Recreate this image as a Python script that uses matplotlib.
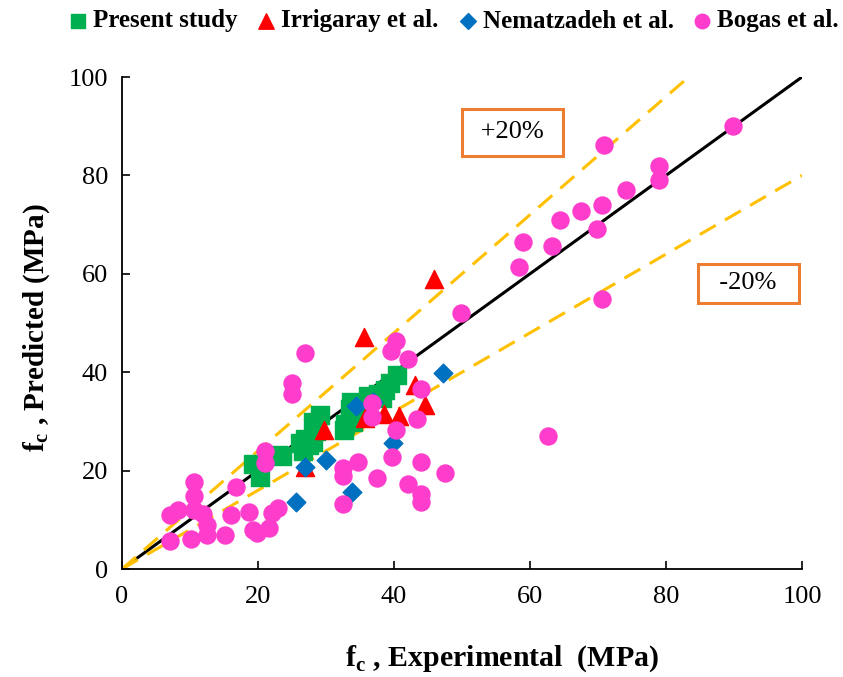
import numpy as np
import matplotlib
matplotlib.use("Agg")
import matplotlib.pyplot as plt

plt.rcParams['font.family'] = ['Liberation Serif', 'DejaVu Serif']
plt.rcParams['mathtext.fontset'] = 'custom'
plt.rcParams['mathtext.rm'] = 'Liberation Serif'
plt.rcParams['mathtext.bf'] = 'Liberation Serif:bold'

# data (experimental, predicted)
present_x = [19.3, 20.3, 22.9, 23.6, 26.2, 26.6, 27.5, 26.9, 28.1, 28.1, 29.1, 28.5, 32.6,
             32.8, 33.5, 33.5, 33.7, 34.5, 35.5, 36.2, 37.6, 38.2, 38.7, 39.4, 40.4, 34.0]
present_y = [21.3, 18.7, 23.2, 23.0, 25.6, 24.0, 25.2, 26.4, 25.8, 29.9, 31.3, 28.0, 28.2,
             29.5, 30.7, 32.5, 34.0, 31.5, 33.0, 35.2, 35.6, 34.8, 36.4, 37.8, 39.4, 29.8]

irri_x = [45.9, 35.6, 43.1, 44.6, 38.5, 40.7, 35.7, 29.7, 26.9]
irri_y = [58.9, 47.2, 37.4, 33.3, 31.5, 31.1, 30.7, 28.3, 20.7]

nema_x = [47.2, 34.4, 36.9, 39.9, 30.0, 26.9, 33.8, 25.6]
nema_y = [39.8, 33.1, 34.0, 25.6, 22.2, 20.7, 15.7, 13.6]

bogas_x = [89.9, 70.9, 79.0, 79.0, 74.1, 70.6, 67.5, 64.4, 59.0, 63.2, 69.9, 58.4, 70.6,
           49.9, 62.6, 26.9, 40.3, 39.6, 42.1, 44.0, 36.8, 36.8, 43.4, 40.3, 39.7, 34.7,
           32.5, 32.5, 44.0, 47.5, 37.5, 42.1, 44.0, 44.0, 32.5, 25.0, 25.0, 21.0, 21.0,
           10.6, 10.6, 16.8, 7.1, 8.2, 10.6, 11.9, 12.5, 12.5, 7.1, 10.1, 15.1, 16.0,
           18.7, 19.3, 19.9, 21.6, 22.1, 22.9]
bogas_y = [90.0, 86.2, 81.9, 79.1, 77.0, 74.0, 72.8, 70.9, 66.5, 65.7, 69.1, 61.4, 54.9,
           52.0, 27.0, 43.9, 46.3, 44.3, 42.7, 36.6, 33.7, 30.9, 30.5, 28.3, 22.8, 21.7,
           20.5, 18.9, 21.7, 19.5, 18.5, 17.3, 15.2, 13.6, 13.2, 37.8, 35.6, 24.0, 21.5,
           17.7, 14.8, 16.7, 11.0, 12.0, 12.0, 11.2, 8.9, 6.9, 5.7, 6.1, 6.9, 11.0,
           11.6, 7.9, 7.3, 8.3, 11.4, 12.4]

fig = plt.figure(figsize=(8.43, 6.77), dpi=100)
ax = fig.add_axes([122 / 843, 1 - 569 / 677, 680 / 843, 492 / 677])

# reference lines
ax.plot([0, 100], [0, 100], color='black', lw=2.2, zorder=1)
ax.plot([0, 100 / 1.2], [0, 100], color='#FFC000', lw=2.2, dashes=(6, 3.5), zorder=1)
ax.plot([0, 100], [0, 80], color='#FFC000', lw=2.2, dashes=(6, 3.5), zorder=1)

ax.scatter(present_x, present_y, marker='s', s=150, color='#00B050', label='Present study', zorder=2)
ax.scatter(irri_x, irri_y, marker='^', s=170, color='#FF0000', label='Irrigaray et al.', zorder=3)
ax.scatter(nema_x, nema_y, marker='D', s=90, color='#0070C0', label='Nematzadeh et al.', zorder=4)
ax.scatter(bogas_x, bogas_y, marker='o', s=150, color='#FF3DCC', label='Bogas et al.', zorder=5)

ax.text(57.4, 88.8, ' +20% ', fontsize=19, ha='center', va='center',
        bbox=dict(boxstyle='square,pad=0.47', fc='white', ec='#ED7D31', lw=2.2))
ax.text(92.1, 58.1, '  -20%  ', fontsize=19, ha='center', va='center',
        bbox=dict(boxstyle='square,pad=0.32', fc='white', ec='#ED7D31', lw=2.2))

ax.set_xlim(0, 100)
ax.set_ylim(0, 100)
ax.set_xticks([0, 20, 40, 60, 80, 100])
ax.set_yticks([0, 20, 40, 60, 80, 100])
ax.tick_params(direction='in', length=6, width=1.2, labelsize=19)
ax.tick_params(axis='x', pad=12)
ax.tick_params(axis='y', pad=10)
ax.spines['top'].set_visible(False)
ax.spines['right'].set_visible(False)
ax.spines['left'].set_linewidth(1.3)
ax.spines['bottom'].set_linewidth(1.3)

ax.set_xlabel(r'f$_{\mathbf{c}}$ , Experimental  (MPa)', fontsize=21.5, fontweight='bold')
ax.xaxis.set_label_coords((502 - 122) / 680, -0.152)
ax.set_ylabel(r'f$_{\mathbf{c}}$ , Predicted (MPa)', fontsize=21, fontweight='bold')
ax.yaxis.set_label_coords(-0.103, 0.49)

fig.legend(loc='center', bbox_to_anchor=(451 / 843, 1 - 21 / 677), ncol=4, frameon=False,
           prop={'weight': 'bold', 'size': 18}, handletextpad=0.0, columnspacing=0.55,
           handlelength=1.2, markerscale=0.85, scatterpoints=1, borderpad=0.1)

fig.savefig('out.png', dpi=100)
